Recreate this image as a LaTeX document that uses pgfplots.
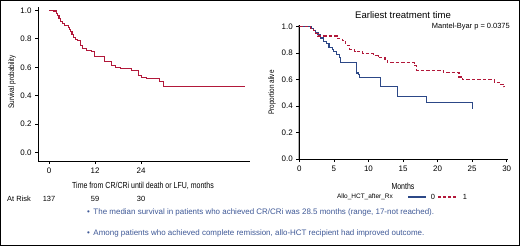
\documentclass[border=0pt]{standalone}
\usepackage{pgfplots}
\pgfplotsset{compat=1.18}
\usepackage{fontspec}
\setmainfont{Liberation Sans}
\newfontfamily\narrowfont[FakeStretch=0.8]{Liberation Sans}
\definecolor{kmred}{RGB}{178,24,58}
\definecolor{kmblue}{RGB}{44,72,135}
\definecolor{bultxt}{RGB}{62,88,150}
\begin{document}
\begin{tikzpicture}[x=1bp,y=1bp]
\path[use as bounding box] (0,0) rectangle (520,246);
\draw[line width=1bp] (0.5,0.5) rectangle (519.5,245.5);
\pgfplotsset{
  kmaxis/.style={
    scale only axis, anchor=south west,
    axis lines=left, axis line style={-, line width=0.8bp, black},
    tick align=outside, major tick length=3bp,
    tick style={black, line width=0.6bp},
    ticklabel style={font=\fontsize{8}{9}\selectfont},
    /pgf/number format/assume math mode=true,
    yticklabel style={/pgf/number format/.cd, fixed, fixed zerofill, precision=1},
    xticklabel style={/pgf/number format/.cd, fixed, precision=0},
    ytick={0,0.2,0.4,0.6,0.8,1.0},
    clip=false,
  }
}
% Left KM plot
\begin{axis}[kmaxis,
  at={(38bp,85bp)}, width=212bp, height=154bp,
  xmin=-2.87, xmax=52.4, ymin=-0.058, ymax=1.023,
  xtick={0,12,24},
]
\addplot[const plot, color=kmred, line width=1.1bp] coordinates {
(0,1.0) (1.3,0.995) (1.9,0.98) (2.3,0.965) (2.6,0.94) (3.1,0.92) (3.6,0.905)
(4.1,0.895) (5.0,0.88) (5.3,0.865) (5.6,0.85) (6.0,0.83) (6.5,0.81) (7.0,0.795)
(7.4,0.785) (8.1,0.75) (8.7,0.73) (9.8,0.72) (11.1,0.71) (11.9,0.675) (14.4,0.64)
(16.4,0.615) (17.3,0.60) (18.6,0.59) (21.6,0.575) (23.4,0.545) (24.0,0.53)
(25.3,0.52) (28.9,0.50) (29.9,0.466) (51.2,0.466)
};
\end{axis}
% Right KM plot
\draw[gray!60, line width=0.8bp] (298.2,87) -- (298.2,221);
\begin{axis}[kmaxis,
  at={(299.3bp,87bp)}, width=208.8bp, height=133.6bp,
  xmin=0, xmax=30.2, ymin=0, ymax=1.01,
  xtick={0,5,10,15,20,25,30},
]
\addplot[const plot, color=kmblue, line width=1.1bp] coordinates {
(0,1.0) (1.8,0.985) (2.0,0.97) (2.4,0.955) (2.7,0.94) (3.1,0.915) (3.5,0.885)
(3.9,0.87) (4.3,0.84) (4.8,0.83) (5.0,0.81) (5.4,0.79) (5.8,0.77) (6.0,0.73)
(8.3,0.65) (8.6,0.64) (8.75,0.615) (11.8,0.55) (14.2,0.475) (18.4,0.43) (25.1,0.38)
};
\addplot[const plot, color=kmred, line width=1.1bp, dash pattern=on 3.5bp off 2bp] coordinates {
(0,1.0) (1.6,0.985) (2.0,0.97) (2.4,0.95) (2.7,0.93) (5.5,0.91) (6.2,0.895)
(6.7,0.86) (7.3,0.83) (8.0,0.81) (9.2,0.795) (10.7,0.78) (11.4,0.77) (12.4,0.75)
(12.7,0.73) (16.6,0.705) (17.0,0.67) (20.8,0.655) (23.1,0.62) (23.6,0.60)
(28.2,0.58) (29.0,0.565) (29.5,0.545) (29.8,0.545)
};
\end{axis}
% Labels
\node[rotate=90, font=\narrowfont\fontsize{8}{9}\selectfont] at (12,164) {Survival probability};
\node[font=\narrowfont\fontsize{8.8}{10}\selectfont] at (143,60) {Time from CR/CRi until death or LFU, months};
\node[rotate=90, font=\narrowfont\fontsize{8}{9}\selectfont] at (272,153.5) {Proportion alive};
\node[font=\narrowfont\fontsize{8.8}{10}\selectfont] at (403,60) {Months};
\node[font=\fontsize{9.6}{11}\selectfont] at (403,231) {Earliest treatment time};
\node[anchor=east, font=\fontsize{7.5}{9}\selectfont, inner sep=0pt] at (510,219) {Mantel-Byar p = 0.0375};
% At risk
\node[anchor=west, font=\fontsize{7.5}{9}\selectfont, inner sep=0pt] at (7,47) {At Risk};
\node[font=\fontsize{7.5}{9}\selectfont, inner sep=0pt] at (49,47) {137};
\node[font=\fontsize{7.5}{9}\selectfont, inner sep=0pt] at (95,47) {59};
\node[font=\fontsize{7.5}{9}\selectfont, inner sep=0pt] at (141,47) {30};
% Legend
\node[anchor=east, font=\fontsize{6.5}{8}\selectfont, inner sep=0pt] at (393,49) {Allo\_HCT\_after\_Rx};
\draw[kmblue, line width=1.1bp] (408,49) -- (426,49);
\node[font=\fontsize{7.5}{9}\selectfont, inner sep=0pt] at (433,49) {0};
\draw[kmred, line width=1.1bp, dash pattern=on 3bp off 2bp] (438,49) -- (458,49);
\node[font=\fontsize{7.5}{9}\selectfont, inner sep=0pt] at (465,49) {1};
% Bullets
\node[anchor=west, font=\fontsize{8}{9}\selectfont, text=bultxt, inner sep=0pt] at (87,34) {\textbullet\hspace{3.5bp}The median survival in patients who achieved CR/CRi was 28.5 months (range, 17-not reached).};
\node[anchor=west, font=\fontsize{8}{9}\selectfont, text=bultxt, inner sep=0pt] at (87,13) {\textbullet\hspace{3.5bp}Among patients who achieved complete remission, allo-HCT recipient had improved outcome.};
\end{tikzpicture}
\end{document}
